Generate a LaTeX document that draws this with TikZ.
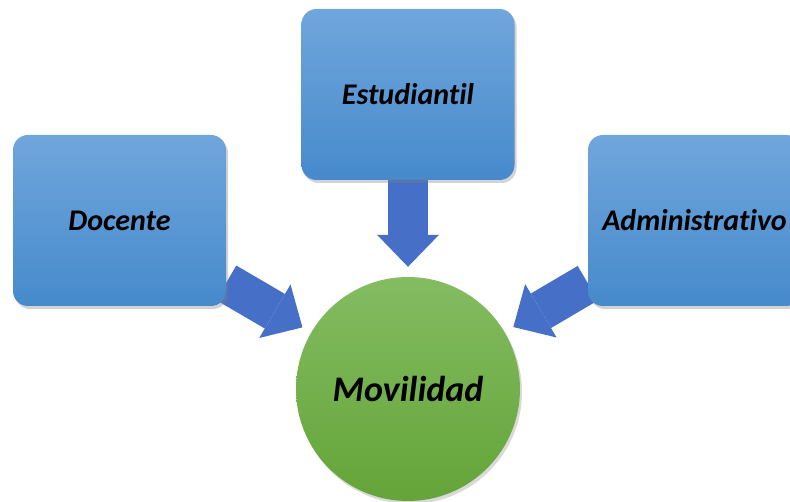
\documentclass[tikz,border=0pt]{standalone}
\usepackage{fontspec}
\setmainfont[Ligatures=NoCommon]{Carlito}
\usetikzlibrary{arrows.meta,shadows,backgrounds}

\definecolor{boxtop}{RGB}{112,166,220}
\definecolor{boxbottom}{RGB}{70,138,204}
\definecolor{circtop}{RGB}{132,188,98}
\definecolor{circbottom}{RGB}{100,164,56}
\definecolor{arrowblue}{RGB}{70,112,200}

\begin{document}
\begin{tikzpicture}[
	x=1pt, y=1pt,
	every node/.style = {inner sep=0pt, align=center, font=\fontsize{30}{34}\selectfont\bfseries\itshape},
	areabox/.style = {rectangle, rounded corners=15pt, minimum width=213pt, minimum height=171pt,
		top color=boxtop, bottom color=boxbottom, draw=none,
		drop shadow={shadow xshift=2pt, shadow yshift=-3pt, opacity=0.35}},
	goal/.style = {circle, minimum size=224pt, top color=circtop, bottom color=circbottom, draw=none,
		font=\fontsize{36}{40}\selectfont\bfseries\itshape,
		drop shadow={shadow xshift=2pt, shadow yshift=-3pt, opacity=0.3}},
	flow/.style = {draw=arrowblue, line width=40pt, shorten >=10pt,
		-{Triangle[length=32pt, width=62pt, line width=0pt]}}
	]
	\useasboundingbox (0,0) rectangle (790,502);
	
	% Areas
	\node[areabox] (estudiantil) at (408,407.5) {Estudiantil};
	\node[areabox] (docente) at (119.5,281.5) {Docente};
	\node[areabox] (administrativo) at (694.5,281.5) {Administrativo};
	
	% Center
	\node[goal] (movilidad) at (408,113) {Movilidad};
	
	% Arrows into the center
	\begin{scope}[on background layer]
		\foreach \i in {estudiantil,docente,administrativo}
		\draw[flow] (\i) -- (movilidad);
	\end{scope}
	
\end{tikzpicture}
\end{document}
